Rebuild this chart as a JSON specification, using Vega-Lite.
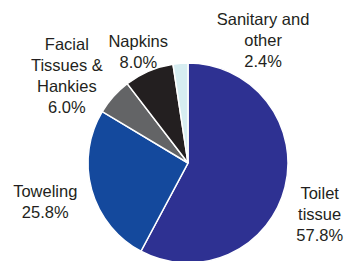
{
  "$schema": "https://vega.github.io/schema/vega-lite/v6.json",
  "width": 200,
  "height": 200,
  "autosize": {"type": "none"},
  "padding": {"left": 88, "top": 63, "right": 56, "bottom": 0},
  "background": "white",
  "config": {"view": {"stroke": null}},
  "data": {
    "values": [
      {"idx": 1, "name": "Toilet tissue", "share": 57.8, "label": "Toilet\ntissue\n57.8%"},
      {"idx": 2, "name": "Toweling", "share": 25.8, "label": "Toweling\n25.8%"},
      {"idx": 3, "name": "Facial Tissues & Hankies", "share": 6.0, "label": "Facial\nTissues &\nHankies\n6.0%"},
      {"idx": 4, "name": "Napkins", "share": 8.0, "label": "Napkins\n8.0%"},
      {"idx": 5, "name": "Sanitary and other", "share": 2.4, "label": "Sanitary and\nother\n2.4%"}
    ]
  },
  "encoding": {
    "theta": {"field": "share", "type": "quantitative", "stack": true},
    "order": {"field": "idx", "type": "quantitative"}
  },
  "layer": [
    {
      "mark": {"type": "arc", "outerRadius": 100, "stroke": "white", "strokeWidth": 1.5},
      "encoding": {
        "color": {
          "field": "name",
          "type": "nominal",
          "legend": null,
          "scale": {
            "domain": ["Toilet tissue", "Toweling", "Facial Tissues & Hankies", "Napkins", "Sanitary and other"],
            "range": ["#2e3192", "#14499d", "#636466", "#231f20", "#d6edf1"]
          }
        }
      }
    },
    {
      "mark": {"type": "text", "radius": 145, "dx": -9, "dy": -4, "font": "Liberation Sans", "fontSize": 16.5, "lineHeight": 21, "lineBreak": "\n", "fill": "#231f20", "align": "center", "baseline": "middle"},
      "encoding": {"text": {"condition": {"test": "datum.idx == 1", "field": "label"}, "value": ""}}
    },
    {
      "mark": {"type": "text", "radius": 145, "dx": -3, "dy": -10, "font": "Liberation Sans", "fontSize": 16.5, "lineHeight": 21, "lineBreak": "\n", "fill": "#231f20", "align": "center", "baseline": "middle"},
      "encoding": {"text": {"condition": {"test": "datum.idx == 2", "field": "label"}, "value": ""}}
    },
    {
      "mark": {"type": "text", "radius": 145, "dx": -13, "dy": -21, "font": "Liberation Sans", "fontSize": 16.5, "lineHeight": 21, "lineBreak": "\n", "fill": "#231f20", "align": "center", "baseline": "middle"},
      "encoding": {"text": {"condition": {"test": "datum.idx == 3", "field": "label"}, "value": ""}}
    },
    {
      "mark": {"type": "text", "radius": 145, "dx": 7, "dy": 12, "font": "Liberation Sans", "fontSize": 16.5, "lineHeight": 21, "lineBreak": "\n", "fill": "#231f20", "align": "center", "baseline": "middle"},
      "encoding": {"text": {"condition": {"test": "datum.idx == 4", "field": "label"}, "value": ""}}
    },
    {
      "mark": {"type": "text", "radius": 145, "dx": 86, "dy": 2, "font": "Liberation Sans", "fontSize": 16.5, "lineHeight": 21, "lineBreak": "\n", "fill": "#231f20", "align": "center", "baseline": "middle"},
      "encoding": {"text": {"condition": {"test": "datum.idx == 5", "field": "label"}, "value": ""}}
    }
  ]
}
